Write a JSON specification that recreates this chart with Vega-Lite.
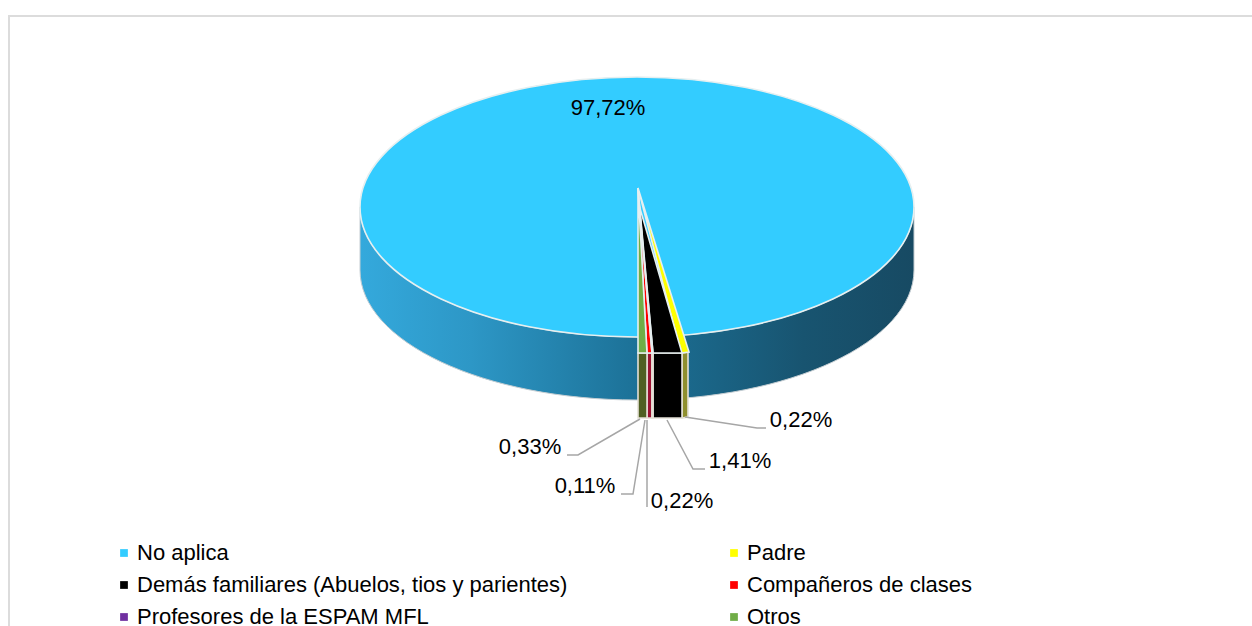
{
"$schema":"https://vega.github.io/schema/vega-lite/v6.json",
"width":1252,"height":626,"padding":0,"autosize":{"type":"none"},
"background":"white",
"config":{"view":{"stroke":null},"font":"Liberation Sans"},
"datasets":{
"slices":[
{"name":"No aplica","pct":97.72,"label":"97,72%","lx":608,"ly":108},
{"name":"Padre","pct":0.22,"label":"0,22%","lx":801,"ly":420},
{"name":"Demás familiares (Abuelos, tios y parientes)","pct":1.41,"label":"1,41%","lx":740,"ly":461},
{"name":"Compañeros de clases","pct":0.22,"label":"0,22%","lx":682,"ly":501},
{"name":"Profesores de la ESPAM MFL","pct":0.11,"label":"0,11%","lx":585,"ly":486},
{"name":"Otros","pct":0.33,"label":"0,33%","lx":530,"ly":447}
],
"leaders":[
{"s":"Padre","o":1,"x":685,"y":417},{"s":"Padre","o":2,"x":757,"y":428},{"s":"Padre","o":3,"x":766,"y":428},
{"s":"Demas","o":1,"x":667,"y":420},{"s":"Demas","o":2,"x":693,"y":469},{"s":"Demas","o":3,"x":705,"y":469},
{"s":"Comp","o":1,"x":647,"y":420},{"s":"Comp","o":2,"x":647,"y":507},
{"s":"Prof","o":1,"x":645,"y":420},{"s":"Prof","o":2,"x":633,"y":494},{"s":"Prof","o":3,"x":621,"y":494},
{"s":"Otros","o":1,"x":640,"y":419},{"s":"Otros","o":2,"x":578,"y":455},{"s":"Otros","o":3,"x":567,"y":455}
],
"frame":[{"x":9,"y":16,"x2":9,"y2":626},{"x":8,"y":16,"x2":1252,"y2":16}]
},
"resolve":{"scale":{"color":"independent","shape":"independent"}},
"layer":[
{"data":{"name":"frame"},"mark":{"type":"rule","color":"#DCDCDC","strokeWidth":2},
 "encoding":{"x":{"field":"x","type":"quantitative","scale":{"domain":[0,1252],"nice":false,"zero":false},"axis":null},
 "y":{"field":"y","type":"quantitative","scale":{"domain":[626,0],"nice":false,"zero":false},"axis":null},
 "x2":{"field":"x2"},"y2":{"field":"y2"}}},
{"data":{"name":"slices"},"transform":[{"filter":"datum.name==='No aplica'"}],
 "mark":{"type":"point","filled":true,"opacity":1,"size":4,"strokeWidth":1,"stroke":"#C4CDD2",
 "shape":"M-277,0A277,130 0 0 0 277,0L277,63A277,130 0 0 1 -277,63Z",
 "fill":{"gradient":"linear","x1":0,"y1":0,"x2":1,"y2":0,"stops":[{"offset":0,"color":"#34A9DC"},{"offset":0.2,"color":"#2D97C6"},{"offset":0.5,"color":"#1C7197"},{"offset":0.8,"color":"#185470"},{"offset":1,"color":"#174A63"}]}},
 "encoding":{"x":{"datum":637,"type":"quantitative"},"y":{"datum":207,"type":"quantitative"}}},
{"data":{"name":"slices"},"transform":[{"filter":"datum.name!=='No aplica'"}],
 "mark":{"type":"point","filled":true,"opacity":1,"size":4,"strokeWidth":1.6,"stroke":"#E4E0D6"},
 "encoding":{"x":{"datum":637,"type":"quantitative"},"y":{"datum":207,"type":"quantitative"},
 "color":{"field":"name","type":"nominal","legend":null,"scale":{"domain":["Padre","Demás familiares (Abuelos, tios y parientes)","Compañeros de clases","Profesores de la ESPAM MFL","Otros"],"range":["#8F8F2E","#000000","#9B1030","#3E2060","#4F5F22"]}},
 "shape":{"field":"name","type":"nominal","legend":null,"scale":{"domain":["Padre","Demás familiares (Abuelos, tios y parientes)","Compañeros de clases","Profesores de la ESPAM MFL","Otros"],
 "range":["M45,146L51,145L51,210L45,211Z","M16,146L45,146L45,211L16,211Z","M10,146L15,146L15,211L10,211Z","M15,146L16,146L16,211L15,211Z","M1,146L10,146L10,211L1,211Z"]}}}},
{"data":{"name":"slices"},
 "mark":{"type":"point","filled":true,"opacity":1,"size":4,"strokeWidth":1.6,"stroke":"#E6EFF0"},
 "encoding":{"x":{"datum":637,"type":"quantitative"},"y":{"datum":207,"type":"quantitative"},
 "color":{"field":"name","type":"nominal","legend":null,
  "scale":{"domain":["No aplica","Padre","Demás familiares (Abuelos, tios y parientes)","Compañeros de clases","Profesores de la ESPAM MFL","Otros"],"range":["#33CCFF","#FFFF00","#000000","#FF0000","#7030A0","#70AD47"]}},
 "shape":{"field":"name","type":"nominal","legend":null,"scale":{"domain":["No aplica","Padre","Demás familiares (Abuelos, tios y parientes)","Compañeros de clases","Profesores de la ESPAM MFL","Otros"],
 "range":["M-277,0A277,130 0 1 1 277,0A277,130 0 1 1 -277,0Z","M1,-19L44,146L52,145Z","M2,-2L16,146L45,146Z","M1,-19L10,146L15,146Z","M1,-19L15,146L16,146Z","M1,-19L1,146L10,146Z"]}}}},
{"data":{"name":"slices"},
 "mark":{"type":"square","filled":true,"size":0},
 "encoding":{"x":{"datum":637,"type":"quantitative"},"y":{"datum":207,"type":"quantitative"},
 "color":{"field":"name","type":"nominal",
  "scale":{"domain":["No aplica","Padre","Demás familiares (Abuelos, tios y parientes)","Compañeros de clases","Profesores de la ESPAM MFL","Otros"],"range":["#33CCFF","#FFFF00","#000000","#FF0000","#7030A0","#70AD47"]},
  "legend":{"orient":"none","direction":"horizontal","legendX":113,"legendY":542,"columns":2,"title":null,"symbolType":"square","symbolSize":60,"symbolOpacity":1,"symbolStrokeWidth":0,"labelFont":"Liberation Sans","labelFontSize":22,"labelColor":"#000000","labelLimit":600,"rowPadding":10,"columnPadding":155,"padding":0,"labelOffset":2}}}},
{"data":{"name":"leaders"},"mark":{"type":"line","color":"#A6A6A6","strokeWidth":1.5},
 "encoding":{"x":{"field":"x","type":"quantitative"},"y":{"field":"y","type":"quantitative"},"detail":{"field":"s"},"order":{"field":"o"}}},
{"data":{"name":"slices"},"mark":{"type":"text","fontSize":22,"font":"Liberation Sans","color":"#000000"},
 "encoding":{"x":{"field":"lx","type":"quantitative"},"y":{"field":"ly","type":"quantitative"},"text":{"field":"label"}}}
]
}
